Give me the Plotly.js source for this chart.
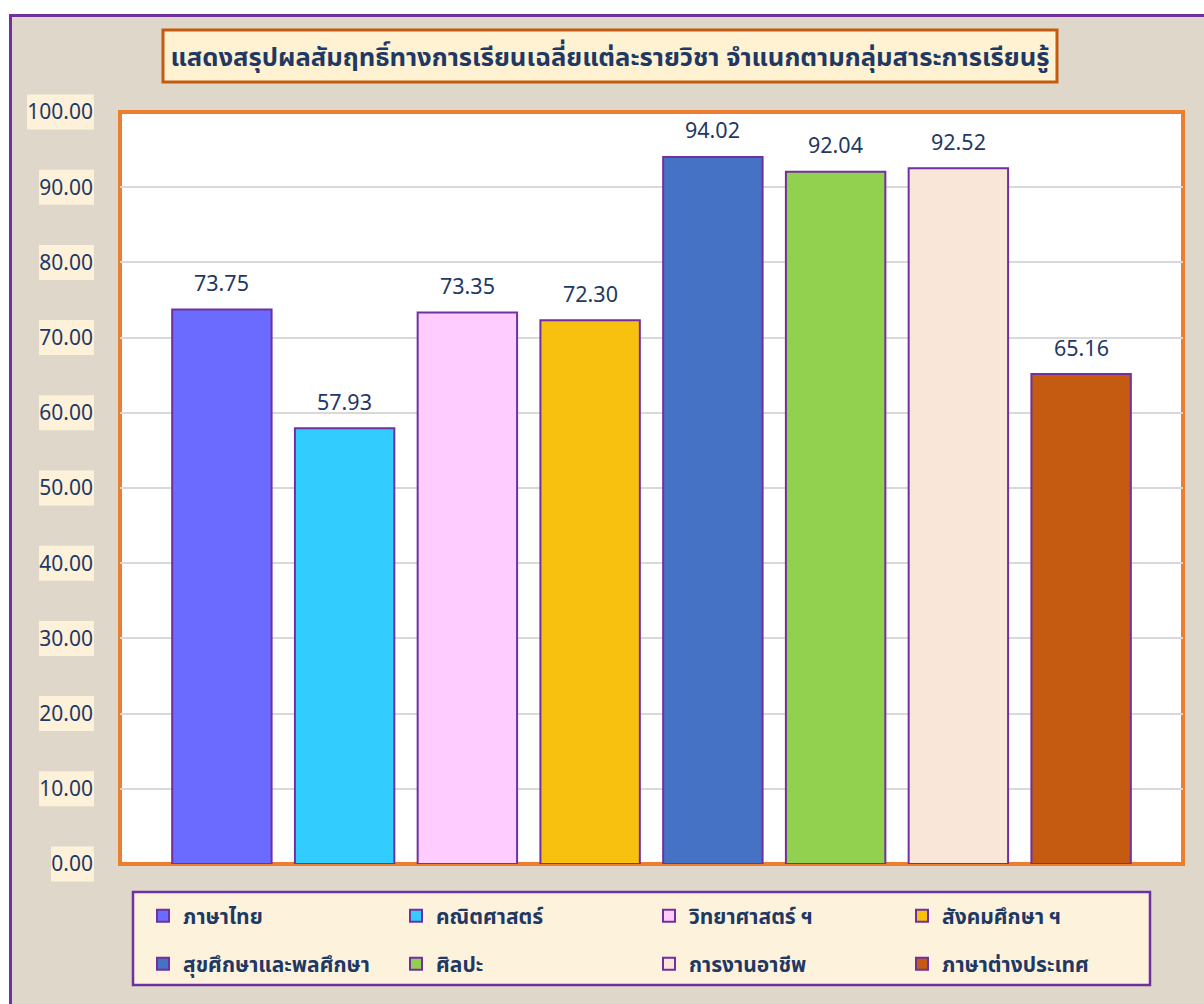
<!DOCTYPE html>
<html>
<head>
<meta charset="utf-8">
<script src="https://cdn.plot.ly/plotly-3.0.1.min.js"></script>
<style>
  html, body { margin: 0; padding: 0; background: #ffffff; }
  #chart {
    position: absolute; left: 9px; top: 14px;
    width: 1192px; height: 987px;
    border-left: 3px solid #7030a0; border-top: 3px solid #7030a0;
  }
</style>
</head>
<body>
<div id="chart"></div>
<script>
const categories = ['ภาษาไทย', 'คณิตศาสตร์', 'วิทยาศาสตร์ ฯ', 'สังคมศึกษา ฯ', 'สุขศึกษาและพลศึกษา', 'ศิลปะ', 'การงานอาชีพ', 'ภาษาต่างประเทศ'];
const values = [73.75, 57.93, 73.35, 72.30, 94.02, 92.04, 92.52, 65.16];
const barColors = ['#6b6bff', '#33ccff', '#ffccff', '#f9c10f', '#4672c6', '#92d050', '#fae5d9', '#c55a11'];
const tickValues = [0, 10, 20, 30, 40, 50, 60, 70, 80, 90, 100];
const tickLabels = tickValues.map(v => v.toFixed(2));
const titleText = 'แสดงสรุปผลสัมฤทธิ์ทางการเรียนเฉลี่ยแต่ละรายวิชา จำแนกตามกลุ่มสาระการเรียนรู้';

const NAVY = '#1f3864';
const FONT = '"Noto Sans", "Noto Sans Thai", sans-serif';

// plot-area geometry helpers (plot area in page px: x 120..1183, y 112..864)
const PX0 = 120, PW = 1063, PY1 = 864, PH = 752;
const px = p => (p - PX0) / PW;
const py = p => (PY1 - p) / PH;

const traces = categories.map((c, i) => ({
  type: 'bar',
  name: c,
  x: [c],
  y: [values[i]],
  width: [0.81],
  marker: { color: barColors[i], line: { color: '#7030a0', width: 2 } },
  legend: i < 4 ? 'legend' : 'legend2',
  hovertemplate: '%{x}: %{y:.2f}<extra></extra>'
}));

const annotations = categories.map((c, i) => ({
  xref: 'x', yref: 'y', x: c, y: values[i],
  text: values[i].toFixed(2),
  showarrow: false, yanchor: 'middle', yshift: 27,
  font: { size: 21.5, color: NAVY, family: FONT }
}));

const shapes = [];
// cream boxes behind y tick labels
tickValues.forEach((t, i) => {
  const w = tickLabels[i].length * 12 - 5;
  shapes.push({
    type: 'rect', xref: 'paper', yref: 'paper', layer: 'below',
    x0: px(94 - w), x1: px(94), y0: (t - 2.33) / 100, y1: (t + 2.33) / 100,
    fillcolor: '#fdf1da', line: { width: 0 }
  });
});
// orange plot frame
shapes.push({
  type: 'rect', xref: 'paper', yref: 'paper', layer: 'below',
  x0: 0, x1: 1, y0: 0, y1: 1,
  line: { color: '#ed7d31', width: 4 }
});
// title box
shapes.push({
  type: 'rect', xref: 'paper', yref: 'paper', layer: 'below',
  x0: px(163), x1: px(1057), y0: py(82), y1: py(30),
  fillcolor: '#fef2d2', line: { color: '#c55a11', width: 3 }
});
// legend box
shapes.push({
  type: 'rect', xref: 'paper', yref: 'paper', layer: 'below',
  x0: px(133), x1: px(1150), y0: py(985), y1: py(892),
  fillcolor: '#fdf3dc', line: { color: '#7030a0', width: 2.5 }
});

const legendBase = {
  orientation: 'h', xanchor: 'left', yanchor: 'middle',
  x: px(143), entrywidth: 208, entrywidthmode: 'pixels',
  bgcolor: 'rgba(0,0,0,0)', borderwidth: 0,
  font: { size: 21, color: NAVY, family: FONT, weight: 'bold' },
  itemclick: false, itemdoubleclick: false
};

const layout = {
  width: 1192, height: 987,
  margin: { l: 108, r: 21, t: 95, b: 140, autoexpand: false },
  paper_bgcolor: '#dfd8ca',
  plot_bgcolor: '#ffffff',
  barmode: 'overlay',
  title: {
    text: titleText,
    xref: 'paper', x: px(610), xanchor: 'center',
    yref: 'container', y: 1 - (57 - 17) / 987, yanchor: 'middle',
    font: { size: 25.6, color: NAVY, family: FONT, weight: 'bold' }
  },
  xaxis: {
    type: 'category', categoryarray: categories,
    range: [-0.83, 7.83],
    showticklabels: false, showgrid: false, zeroline: false, showline: false,
    fixedrange: true
  },
  yaxis: {
    range: [0, 100], tickvals: tickValues, ticktext: tickLabels,
    showgrid: true, gridcolor: '#d9d9d9', gridwidth: 2,
    zeroline: false, showline: false, ticks: '',
    ticklabelstandoff: 26,
    tickfont: { size: 21, color: NAVY, family: FONT },
    fixedrange: true
  },
  legend: Object.assign({}, legendBase, { y: py(916) }),
  legend2: Object.assign({}, legendBase, { y: py(964) }),
  showlegend: true,
  annotations: annotations,
  shapes: shapes
};

Plotly.newPlot('chart', traces, layout, { displayModeBar: false });
</script>
</body>
</html>
